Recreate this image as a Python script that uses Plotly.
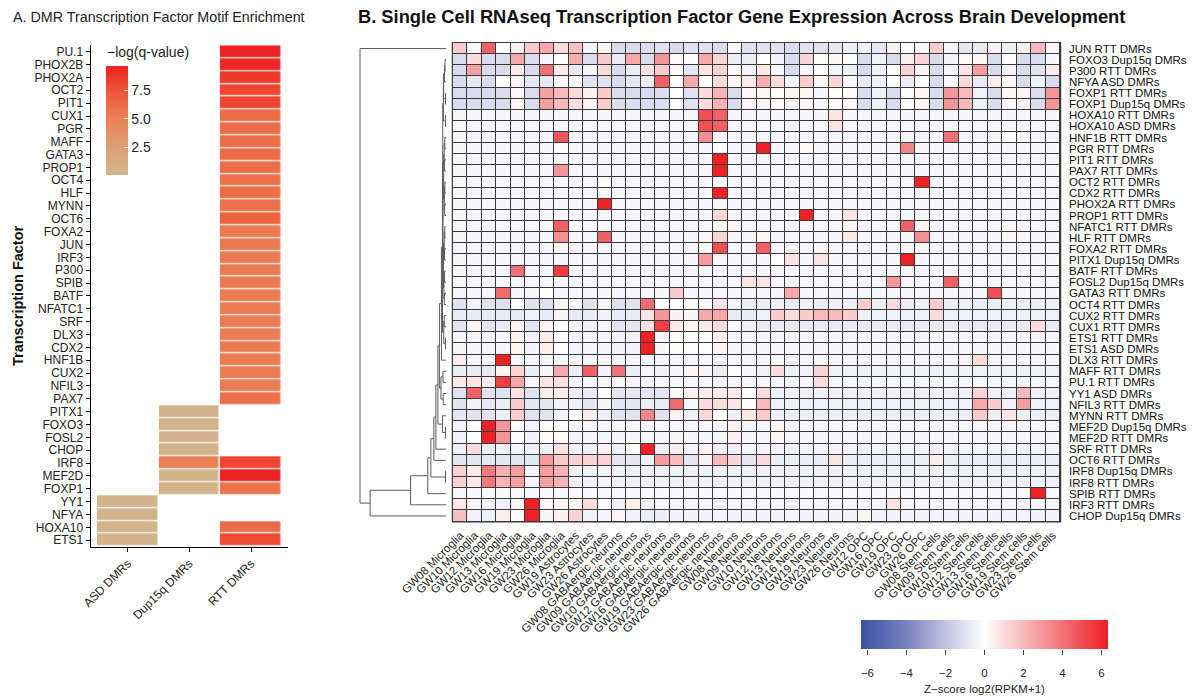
import plotly.graph_objects as go

W, H = 1197, 698
FONT = "Liberation Sans, Arial, Helvetica, sans-serif"

# ---------------- Panel A data ----------------
tf_a = ["PU.1", "PHOX2B", "PHOX2A", "OCT2", "PIT1", "CUX1", "PGR", "MAFF", "GATA3", "PROP1",
        "OCT4", "HLF", "MYNN", "OCT6", "FOXA2", "JUN", "IRF3", "P300", "SPIB", "BATF",
        "NFATC1", "SRF", "DLX3", "CDX2", "HNF1B", "CUX2", "NFIL3", "PAX7", "PITX1", "FOXO3",
        "FOSL2", "CHOP", "IRF8", "MEF2D", "FOXP1", "YY1", "NFYA", "HOXA10", "ETS1"]
dmr_groups = ["ASD DMRs", "Dup15q DMRs", "RTT DMRs"]
asd_q = [None, None, None, None, None, None, None, None, None, None,
         None, None, None, None, None, None, None, None, None, None,
         None, None, None, None, None, None, None, None, None, None,
         None, None, None, None, None, 0.2, 0.2, 0.2, 0.2]
dup_q = [None, None, None, None, None, None, None, None, None, None,
         None, None, None, None, None, None, None, None, None, None,
         None, None, None, None, None, None, None, None, 0.2, 0.2,
         0.2, 0.2, 5.0, 0.3, 0.3, None, None, None, None]
rtt_q = [9.6, 9.4, 8.6, 8.1, 8.1, 6.2, 6.1, 6.1, 6.1, 6.0,
         6.0, 6.0, 6.0, 6.8, 5.4, 5.4, 5.4, 5.4, 5.4, 5.3,
         5.3, 5.3, 5.3, 5.3, 5.3, 5.3, 5.3, 5.9, None, None,
         None, None, 8.0, 9.6, 5.8, None, None, 6.2, 7.8]

# ---------------- Panel B data ----------------
row_labels = ["JUN RTT DMRs", "FOXO3 Dup15q DMRs", "P300 RTT DMRs", "NFYA ASD DMRs",
              "FOXP1 RTT DMRs", "FOXP1 Dup15q DMRs", "HOXA10 RTT DMRs", "HOXA10 ASD DMRs",
              "HNF1B RTT DMRs", "PGR RTT DMRs", "PIT1 RTT DMRs", "PAX7 RTT DMRs",
              "OCT2 RTT DMRs", "CDX2 RTT DMRs", "PHOX2A RTT DMRs", "PROP1 RTT DMRs",
              "NFATC1 RTT DMRs", "HLF RTT DMRs", "FOXA2 RTT DMRs", "PITX1 Dup15q DMRs",
              "BATF RTT DMRs", "FOSL2 Dup15q DMRs", "GATA3 RTT DMRs", "OCT4 RTT DMRs",
              "CUX2 RTT DMRs", "CUX1 RTT DMRs", "ETS1 RTT DMRs", "ETS1 ASD DMRs",
              "DLX3 RTT DMRs", "MAFF RTT DMRs", "PU.1 RTT DMRs", "YY1 ASD DMRs",
              "NFIL3 RTT DMRs", "MYNN RTT DMRs", "MEF2D Dup15q DMRs", "MEF2D RTT DMRs",
              "SRF RTT DMRs", "OCT6 RTT DMRs", "IRF8 Dup15q DMRs", "IRF8 RTT DMRs",
              "SPIB RTT DMRs", "IRF3 RTT DMRs", "CHOP Dup15q DMRs"]
col_labels = ["GW08 Microglia", "GW10 Microglia", "GW12 Microglia", "GW13 Microglia",
              "GW16 Microglia", "GW19 Microglia", "GW23 Microglia", "GW26 Microglia",
              "GW19 Astrocytes", "GW23 Astrocytes", "GW26 Astrocytes",
              "GW08 GABAergic neurons", "GW09 GABAergic neurons", "GW10 GABAergic neurons",
              "GW12 GABAergic neurons", "GW16 GABAergic neurons", "GW19 GABAergic neurons",
              "GW23 GABAergic neurons", "GW26 GABAergic neurons",
              "GW08 Neurons", "GW09 Neurons", "GW10 Neurons", "GW12 Neurons", "GW13 Neurons",
              "GW16 Neurons", "GW19 Neurons", "GW23 Neurons", "GW26 Neurons",
              "GW12 OPC", "GW16 OPC", "GW19 OPC", "GW23 OPC", "GW26 OPC",
              "GW08 Stem cells", "GW09 Stem cells", "GW10 Stem cells", "GW12 Stem cells",
              "GW13 Stem cells", "GW16 Stem cells", "GW19 Stem cells", "GW23 Stem cells",
              "GW26 Stem cells"]

expr_z = [
 [1.5,-0.3,4.5,0.0,0.4,1.5,2.5,  1.0,1.8,-0.4,0.3,-1.2,-1.2,-1.2,  -1.0,-1.2,-1.0,-1.0,-1.2,0.3,-1.0,  -1.0,-1.0,-1.2,-1.0,-1.0,-0.8,-0.5,  -0.5,-0.8,0.4,0.0,-0.3,1.5,-0.3,  -0.8,-0.7,0.4,-0.5,0.5,2.0,0.2],
 [-1.2,1.0,-1.2,-1.2,2.5,-1.2,-0.3,  0.0,2.3,-1.2,1.5,-0.7,2.5,-1.2,  3.0,0.2,0.0,2.5,1.2,-0.6,-0.6,  0.0,-0.4,-1.2,1.2,0.1,0.3,0.0,  -1.2,-0.5,-1.2,0.5,1.2,-1.2,-0.4,  0.2,0.3,-1.2,0.1,-1.2,-1.2,-0.3],
 [-1.2,2.7,-1.2,-1.2,0.6,-1.2,4.0,  0.6,-0.7,-0.4,1.0,-1.2,-0.6,0.8,  1.5,0.2,-0.8,0.8,1.2,0.2,-0.4,  0.6,-0.3,-1.2,-0.3,0.0,-0.4,-0.6,  -1.2,-0.5,0.0,1.3,0.3,-1.2,-0.4,  0.8,2.8,-1.2,-0.4,-1.2,-1.0,0.6],
 [-1.2,-0.8,-1.2,0.0,-0.3,-0.8,-0.8,  -0.3,0.2,-1.0,-1.0,-1.2,-0.8,-0.6,  4.5,0.1,2.5,0.0,1.0,0.3,0.5,  2.3,1.0,-0.3,1.5,0.3,1.2,-0.3,  -0.7,-0.5,0.0,-0.6,0.0,-1.2,-0.3,  1.0,-0.7,0.5,0.3,-1.2,-0.5,-1.2],
 [-1.2,-1.2,-1.2,-1.2,0.2,-1.2,2.7,  2.0,1.0,0.4,1.5,-1.2,-1.2,-1.2,  -1.1,0.0,-1.0,1.0,2.2,-1.2,0.2,  0.3,0.1,0.3,0.3,-0.3,0.1,0.2,  -1.2,-0.5,-1.2,0.1,0.3,-1.2,3.0,  2.0,-0.5,-1.2,0.2,0.3,-1.2,3.0],
 [-1.2,-1.2,-1.2,-1.2,0.2,-1.2,2.7,  2.0,1.0,0.4,1.5,-1.2,-1.2,-1.2,  -1.1,0.0,-1.0,1.0,2.2,-1.2,0.2,  0.3,0.1,0.3,0.3,-0.3,0.1,0.2,  -1.2,-0.5,-1.2,0.1,0.3,-1.2,3.0,  2.0,-0.5,-1.2,0.2,0.3,-1.2,3.0],
 [-0.3,-0.3,-0.3,-0.3,-0.3,-0.3,-0.3,  -0.3,-0.3,-0.3,-0.3,-0.3,-0.3,-0.3,  -0.3,-0.3,-0.3,5.0,4.5,-0.3,-0.3,  -0.3,-0.3,-0.3,-0.3,-0.3,0.8,-0.3,  -0.3,-0.3,-0.3,-0.3,-0.3,-0.3,-0.3,  -0.3,-0.3,-0.3,-0.3,-0.3,-0.3,-0.3],
 [-0.3,-0.3,-0.3,-0.3,-0.3,-0.3,-0.3,  -0.3,-0.3,-0.3,-0.3,-0.3,-0.3,-0.3,  -0.3,-0.3,-0.3,5.0,4.5,-0.3,-0.3,  -0.3,-0.3,-0.3,-0.3,-0.3,0.8,-0.3,  -0.3,-0.3,-0.3,-0.3,-0.3,-0.3,-0.3,  -0.3,-0.3,-0.3,-0.3,-0.3,-0.3,-0.3],
 [-0.3,-0.3,-0.3,-0.3,-0.3,-0.3,-0.3,  4.8,-0.3,-0.3,-0.3,-0.3,-0.3,-0.3,  -0.3,-0.3,-0.3,3.2,-0.1,-0.3,-0.3,  -0.3,-0.3,-0.3,-0.3,-0.3,-0.3,-0.3,  -0.3,-0.3,-0.3,-0.3,-0.3,-0.3,4.0,  -0.3,-0.3,-0.3,0.0,-0.3,-0.3,-0.3],
 [-0.3,-0.3,-0.3,-0.3,-0.3,-0.3,-0.3,  0.0,-0.3,-0.3,-0.3,-0.3,-0.3,-0.3,  -0.3,-0.3,-0.3,-0.3,0.0,-0.3,-0.3,  6.3,-0.3,-0.3,0.2,-0.3,-0.3,-0.3,  -0.3,-0.3,-0.3,3.5,-0.3,-0.3,-0.3,  -0.3,-0.3,-0.3,-0.3,-0.3,-0.3,-0.3],
 [-0.3,-0.3,-0.3,-0.3,-0.3,-0.3,-0.3,  -0.3,-0.3,-0.3,-0.3,-0.3,-0.3,-0.3,  -0.3,-0.3,-0.3,-0.3,6.3,-0.3,-0.3,  -0.3,-0.3,-0.3,-0.3,-0.3,-0.3,-0.3,  -0.3,-0.3,-0.3,-0.3,-0.3,-0.3,-0.3,  -0.3,-0.3,-0.3,-0.3,-0.3,-0.3,-0.3],
 [-0.3,-0.3,-0.3,-0.3,-0.3,-0.3,-0.3,  3.0,-0.3,-0.3,-0.3,-0.3,-0.3,-0.3,  -0.3,-0.3,-0.3,-0.3,6.3,-0.3,-0.3,  -0.3,-0.3,-0.3,-0.3,-0.3,-0.3,-0.3,  -0.3,-0.3,-0.3,-0.3,-0.3,-0.3,-0.3,  -0.3,-0.3,-0.3,-0.3,-0.3,-0.3,-0.3],
 [-0.3,-0.3,-0.3,-0.3,-0.3,-0.3,-0.3,  -0.3,-0.3,-0.3,0.1,-0.3,-0.3,-0.3,  -0.3,-0.3,-0.3,-0.3,-0.3,-0.3,-0.3,  -0.3,-0.3,-0.3,-0.3,-0.3,-0.3,-0.3,  -0.3,-0.3,-0.3,-0.3,6.3,-0.3,-0.3,  -0.3,-0.3,-0.3,-0.3,-0.3,-0.3,-0.3],
 [-0.3,-0.3,-0.3,-0.3,-0.3,-0.3,-0.3,  -0.3,-0.3,-0.3,-0.3,-0.3,-0.3,-0.3,  -0.3,-0.3,-0.3,-0.3,6.3,-0.3,-0.3,  -0.3,-0.3,-0.3,-0.3,-0.3,-0.3,-0.3,  -0.3,-0.3,-0.3,-0.3,-0.3,-0.3,-0.3,  -0.3,-0.3,-0.3,-0.3,-0.3,-0.3,-0.3],
 [-0.3,-0.3,-0.3,-0.3,-0.3,-0.3,-0.3,  -0.3,-0.3,-0.3,6.3,-0.3,-0.3,-0.3,  -0.3,-0.3,-0.3,-0.3,-0.3,-0.3,-0.3,  -0.3,-0.3,-0.3,-0.3,-0.3,-0.3,-0.3,  -0.3,-0.3,-0.3,-0.3,-0.3,-0.3,-0.3,  -0.3,-0.3,-0.3,-0.3,-0.3,-0.3,-0.3],
 [-0.3,-0.3,-0.3,-0.3,-0.3,-0.3,-0.3,  -0.3,-0.3,-0.3,-0.3,-0.3,-0.3,-0.3,  -0.3,-0.3,-0.3,-0.3,1.2,-0.3,-0.3,  -0.3,-0.3,-0.3,6.3,-0.3,-0.3,0.8,  -0.3,-0.3,-0.3,-0.3,-0.3,-0.3,-0.3,  -0.3,-0.3,-0.3,-0.3,-0.3,-0.3,-0.3],
 [-0.3,-0.3,-0.3,-0.3,-0.3,-0.3,-0.3,  4.5,0.0,-0.3,-0.3,-0.3,-0.3,-0.3,  -0.3,-0.3,-0.3,-0.3,0.0,0.3,-0.3,  -0.3,-0.3,-0.3,-0.3,-0.3,-0.3,-0.3,  -0.3,-0.3,-0.3,4.5,0.3,-0.3,-0.3,  -0.3,-0.3,-0.3,-0.3,-0.3,-0.3,-0.3],
 [-0.3,-0.3,-0.3,-0.3,-0.3,-0.3,-0.3,  3.2,-0.3,-0.3,4.5,-0.3,-0.3,-0.3,  -0.3,-0.3,-0.3,0.3,1.2,-0.3,-0.3,  0.3,-0.3,-0.3,-0.3,-0.3,-0.3,0.7,  -0.3,-0.3,-0.3,-0.3,3.2,-0.3,-0.3,  -0.3,-0.3,-0.3,0.3,-0.3,-0.3,-0.3],
 [-0.3,-0.3,-0.3,-0.3,-0.3,-0.3,-0.3,  -0.3,-0.3,-0.3,-0.3,-0.3,-0.3,-0.3,  -0.3,-0.3,-0.3,-0.3,5.0,-0.3,-0.3,  4.5,-0.3,-0.3,-0.3,-0.3,-0.3,-0.3,  -0.3,-0.3,-0.3,-0.3,-0.3,-0.3,-0.3,  -0.3,-0.3,-0.3,-0.3,-0.3,-0.3,-0.3],
 [-0.3,-0.3,-0.3,-0.3,-0.3,-0.3,-0.3,  -0.3,-0.3,-0.3,-0.3,-0.3,-0.3,-0.3,  -0.3,-0.3,-0.3,2.8,-0.3,-0.3,-0.3,  -0.3,0.0,0.8,-0.3,0.8,-0.3,-0.3,  -0.3,-0.3,-0.3,6.3,-0.3,-0.3,-0.3,  -0.3,-0.3,-0.3,-0.3,-0.3,-0.3,-0.3],
 [-0.3,-0.3,-0.3,-0.3,4.0,-0.3,-0.3,  5.5,-0.3,-0.3,-0.3,-0.3,-0.3,-0.3,  -0.3,-0.3,-0.3,-0.3,-0.3,-0.3,-0.3,  -0.3,-0.3,-0.3,-0.3,-0.3,-0.3,-0.3,  -0.3,-0.3,-0.3,-0.3,-0.3,-0.3,-0.3,  -0.3,-0.3,-0.3,-0.3,-0.3,-0.3,-0.3],
 [-0.3,-0.3,-0.3,-0.3,-0.3,-0.3,-0.3,  -0.3,-0.3,-0.3,-0.3,-0.3,-0.3,-0.3,  -0.3,-0.3,-0.3,-0.3,-0.3,-0.3,0.8,  0.8,-0.3,-0.3,-0.3,-0.3,-0.3,-0.3,  -0.3,-0.3,3.0,-0.3,-0.3,-0.3,4.5,  -0.3,-0.3,-0.3,-0.3,-0.3,-0.3,-0.3],
 [-0.3,-0.3,-0.3,4.2,-0.3,-0.3,0.0,  -0.3,-0.3,-0.3,-0.3,-0.3,-0.3,-0.3,  -0.3,1.5,-0.3,-0.3,-0.3,-0.3,-0.3,  -0.3,-0.3,2.5,-0.3,-0.3,-0.3,-0.3,  -0.3,-0.3,-0.3,-0.3,-0.3,-0.3,-0.3,  -0.3,-0.3,5.0,-0.3,-0.3,-0.3,-0.3],
 [-1.0,-0.4,-1.0,-1.0,0.0,-1.0,-1.0,  0.3,0.0,-1.0,0.3,-1.0,-1.0,4.2,  0.0,0.0,0.2,-0.2,0.8,-0.4,-0.6,  -0.6,-0.5,-0.6,-0.5,-0.6,-0.5,-0.6,  1.5,-0.6,1.0,-0.6,-0.5,1.5,-0.6,  -0.5,-0.6,-0.6,-0.5,-0.6,-0.6,-0.5],
 [-0.7,-0.7,-0.7,-0.7,-0.7,-0.5,-0.7,  -0.3,-0.7,-0.7,-0.4,-0.7,-0.7,0.8,  3.0,0.4,-0.3,2.5,2.5,-0.7,-0.7,  -0.5,1.5,1.0,1.5,2.0,2.0,1.5,  -0.5,-0.5,-0.5,-0.5,-0.5,1.0,-0.5,  -0.5,-0.5,-0.5,-0.5,-0.5,-0.5,-0.5],
 [-0.9,0.3,-0.9,-0.7,0.3,-0.9,0.3,  0.0,-0.4,-0.5,-0.3,-0.9,-0.9,0.8,  5.5,0.6,0.2,0.6,1.0,-0.2,-0.5,  -0.7,-0.7,-0.7,-0.7,-0.7,-0.7,-0.7,  -0.7,-0.7,-0.7,-0.7,-0.7,-0.7,-0.7,  -0.7,-0.7,-0.7,-0.7,-0.7,1.0,-0.7],
 [-0.3,-0.3,-0.3,-0.3,0.3,-0.4,0.5,  0.0,-0.4,-0.3,-0.3,-0.4,-0.4,6.3,  -0.3,0.1,0.0,0.0,0.3,-0.3,-0.3,  -0.3,-0.3,-0.3,-0.3,-0.3,-0.3,-0.3,  -0.3,-0.3,-0.3,-0.3,-0.3,-0.3,-0.3,  -0.3,-0.3,-0.3,-0.3,-0.3,-0.3,-0.3],
 [-0.3,-0.3,-0.3,-0.3,0.3,-0.4,0.5,  0.0,-0.4,-0.3,-0.3,-0.4,-0.4,6.3,  -0.3,0.1,0.0,0.0,0.3,-0.3,-0.3,  -0.3,-0.3,-0.3,-0.3,-0.3,-0.3,-0.3,  -0.3,-0.3,-0.3,-0.3,-0.3,-0.3,-0.3,  -0.3,-0.3,-0.3,-0.3,-0.3,-0.3,-0.3],
 [0.5,-0.3,-0.3,6.3,-0.3,-0.3,-0.3,  -0.3,-0.3,-0.3,-0.3,-0.3,-0.3,-0.3,  -0.3,-0.3,-0.3,-0.3,-0.3,-0.3,-0.3,  -0.3,-0.3,-0.3,-0.3,-0.3,-0.3,-0.3,  -0.3,-0.3,-0.3,-0.3,-0.3,-0.3,-0.3,  -0.3,1.0,-0.3,-0.3,-0.3,-0.3,-0.3],
 [-0.6,-0.7,-0.7,0.4,1.2,-0.6,-0.3,  2.5,-0.6,4.5,-0.4,4.0,-0.6,-0.3,  -0.5,-0.3,0.3,-0.3,-0.6,0.0,-0.3,  -0.5,1.0,-0.5,-0.5,1.2,-0.5,-0.5,  -0.5,-0.5,-0.5,-0.5,-0.5,-0.5,-0.5,  -0.5,-0.5,-0.5,-0.5,-0.5,-0.5,-0.5],
 [0.6,0.8,0.6,5.5,2.5,-0.3,0.8,  0.9,-0.3,-0.3,-0.3,-0.3,-0.3,-0.3,  -0.3,-0.3,-0.3,-0.3,-0.3,-0.3,-0.3,  -0.3,-0.3,-0.3,-0.3,1.0,-0.3,-0.3,  -0.3,-0.3,-0.3,-0.3,-0.3,-0.3,-0.3,  -0.3,-0.3,-0.3,-0.3,-0.3,-0.3,-0.3],
 [-1.0,4.5,-1.0,-1.0,0.8,-1.0,0.5,  0.5,-0.6,-0.7,0.1,-0.9,-0.8,-0.9,  -0.9,0.2,0.4,0.6,0.6,0.7,0.0,  1.0,-0.5,-0.5,-0.5,-0.5,-0.5,-0.5,  -0.5,-0.5,-0.5,-0.5,-0.5,-0.5,-0.5,  -0.5,1.2,-0.5,-0.5,2.0,-0.5,-0.5],
 [-0.9,-0.4,-0.8,-0.6,1.5,-0.8,-0.8,  -0.4,-0.5,-0.8,-0.3,-0.8,-0.8,-0.6,  -0.7,4.2,-0.2,1.0,1.0,0.8,0.0,  2.0,-0.5,-0.5,-0.5,-0.5,-0.5,-0.5,  -0.5,-0.5,-0.5,-0.5,-0.5,-0.5,-0.5,  -0.5,2.5,1.5,-0.5,2.8,-0.5,-0.5],
 [-0.8,-1.0,-1.0,-0.6,1.5,-1.0,-1.0,  -0.4,0.0,0.6,-0.6,-1.0,-1.0,3.5,  -1.0,0.4,-0.6,1.2,0.0,-0.5,0.8,  1.5,-0.6,-0.6,-0.6,-0.6,-0.6,-0.6,  -0.6,-0.6,-0.6,-0.6,-0.6,-0.6,-0.6,  -0.6,1.5,-0.6,0.8,-0.6,-0.6,-0.6],
 [-0.4,0.0,6.3,3.0,0.0,-0.4,0.1,  0.1,-0.4,-0.3,-0.3,-0.3,-0.3,-0.3,  -0.3,-0.3,-0.3,-0.3,-0.3,0.4,-0.3,  -0.3,0.3,-0.3,-0.3,-0.3,-0.3,-0.3,  -0.3,-0.3,-0.3,-0.3,-0.3,-0.3,-0.3,  -0.3,-0.3,-0.3,-0.3,-0.3,-0.3,-0.3],
 [-0.4,0.0,6.3,3.0,0.0,-0.4,0.1,  0.1,-0.4,-0.3,-0.3,-0.3,-0.3,-0.3,  -0.3,-0.3,-0.3,-0.3,-0.3,0.4,-0.3,  -0.3,0.3,-0.3,-0.3,-0.3,-0.3,-0.3,  -0.3,-0.3,-0.3,-0.3,-0.3,-0.3,-0.3,  -0.3,-0.3,-0.3,-0.3,-0.3,-0.3,-0.3],
 [-0.5,1.0,-0.6,-0.5,-0.3,-0.5,-0.5,  0.8,-0.5,-0.5,0.4,-0.5,0.1,6.3,  -0.5,0.5,-0.4,0.4,-0.5,-0.5,-0.3,  -0.4,-0.4,-0.4,-0.4,-0.4,-0.4,-0.4,  -0.4,-0.4,-0.4,-0.4,-0.4,-0.4,-0.4,  -0.4,-0.4,-0.4,-0.4,-0.4,-0.4,-0.4],
 [-0.8,-0.8,-0.8,-0.8,-0.8,-0.8,2.8,  1.5,1.3,1.3,1.3,-0.8,-0.8,-0.5,  2.8,2.0,-0.8,0.4,2.0,1.2,-0.8,  1.0,-0.6,-0.6,-0.6,-0.6,0.8,-0.6,  -0.6,-0.6,-0.6,-0.6,-0.6,0.5,-0.6,  -0.6,-0.6,-0.6,-0.6,-0.6,-0.6,-0.6],
 [1.3,0.6,3.8,2.2,2.8,-0.4,2.8,  2.2,-0.5,-0.5,-0.4,-0.5,-0.5,-0.5,  -0.5,-0.5,-0.5,-0.5,-0.5,-0.5,-0.5,  -0.5,-0.5,-0.5,-0.5,-0.5,-0.5,-0.5,  -0.5,-0.5,-0.5,-0.5,-0.5,-0.5,-0.5,  -0.5,-0.5,-0.5,-0.5,-0.5,-0.5,-0.5],
 [1.3,0.6,3.8,2.2,2.8,-0.4,2.8,  2.2,-0.5,-0.5,-0.4,-0.5,-0.5,-0.5,  -0.5,-0.5,-0.5,-0.5,-0.5,-0.5,-0.5,  -0.5,-0.5,-0.5,-0.5,-0.5,-0.5,-0.5,  -0.5,-0.5,-0.5,-0.5,-0.5,-0.5,-0.5,  -0.5,-0.5,-0.5,-0.5,-0.5,-0.5,-0.5],
 [-0.2,-0.2,-0.2,-0.2,-0.2,-0.2,-0.2,  -0.2,-0.2,-0.2,-0.2,-0.2,-0.2,-0.2,  -0.2,-0.2,-0.2,-0.2,-0.2,-0.2,-0.2,  -0.2,-0.2,-0.2,-0.2,-0.2,-0.2,-0.2,  -0.2,-0.2,-0.2,-0.2,-0.2,-0.2,-0.2,  -0.2,-0.2,-0.2,-0.2,-0.2,6.3,-0.2],
 [0.6,-0.3,-0.5,-0.5,0.2,6.3,0.2,  0.3,0.0,1.0,0.0,-0.5,0.5,-0.5,  -0.3,-0.3,-0.3,-0.3,-0.3,-0.3,-0.3,  -0.3,-0.3,-0.3,-0.3,-0.3,-0.3,-0.3,  -0.3,-0.3,0.8,-0.3,-0.3,-0.3,-0.3,  -0.3,-0.3,-0.3,-0.3,-0.3,-0.3,-0.3],
 [1.8,-0.5,-0.5,0.5,0.0,6.3,-0.3,  0.4,1.3,-0.5,-0.3,0.3,-0.5,-0.6,  -0.6,-0.4,-0.4,-0.4,-0.4,-0.4,-0.4,  -0.4,-0.4,-0.4,-0.4,-0.4,-0.4,-0.4,  0.3,-0.4,-0.4,-0.4,-0.4,-0.4,-0.4,  -0.4,-0.4,-0.4,-0.4,-0.4,-0.4,-0.4],
]

# dendrogram of the rows: (merge height, left, right); integers are row indices
row_tree = (85, 0,
  (75,
    (35,
      (18,
        (15,
          (12,
            (10,
              (8,
                (6.5,
                  (4.5,
                    (3.5,
                      (3.2,
                        (2.6, (2.4, (1.5, (1.0, 1, 2), 3), (0.5, 4, 5)), (0.5, 6, 7)),
                        (3.0,
                          (2.3, (1.8, (1.2, 8, 9), (1.4, 10, 11)), (1.6, (1.1, 12, 13), (1.3, 14, 15))),
                          (2.5, (1.7, (1.2, 16, 17), (1.5, 18, 19)), (2.0, (1.4, 20, 21), (1.6, 22, 23))))),
                      (2.2, (1.8, 24, 25), (0.5, 26, 27))),
                    28),
                  (5.0, (3.0, 29, 30), (2.8, 31, 32))),
                (3.5, 33, (0.5, 34, 35))),
              36),
            37),
          (0.5, 38, 39)),
        40),
      41),
    42))

# colour-key ticks of panel B
zkey_ticks = [-6, -4, -2, 0, 2, 4, 6]
zkey_min, zkey_max = -6.33, 6.33

# ---------------- helpers ----------------
def px(x):
    return x / W

def py(y):
    return 1 - y / H

fig = go.Figure()

# Panel A heatmap
z_a = [[asd_q[i], dup_q[i], rtt_q[i]] for i in range(len(tf_a))]
fig.add_trace(go.Heatmap(
    z=z_a, x=list(range(len(dmr_groups))), y=list(range(len(tf_a))),
    xgap=1.5, ygap=1.2, zmin=0.1, zmax=9.63,
    colorscale=[[0, "#D3B48C"], [0.25, "#DE9F78"], [0.5, "#EA8258"], [0.75, "#EE5A39"], [1, "#EE2024"]],
    colorbar=dict(orientation="v", x=px(106), xanchor="left", y=py(65.7), yanchor="top",
                  len=109, lenmode="pixels", thickness=22, thicknessmode="pixels",
                  xpad=0, ypad=0, outlinewidth=0, ticks="inside", ticklen=4, tickcolor="white",
                  tickvals=[2.5, 5.0, 7.5], ticktext=["2.5", "5.0", "7.5"],
                  tickfont=dict(size=14, color="#222", family=FONT)),
    hoverinfo="skip", xaxis="x", yaxis="y"))

# Panel B heatmap
fig.add_trace(go.Heatmap(
    z=expr_z, x=list(range(len(col_labels))), y=list(range(len(row_labels))),
    xgap=1, ygap=1, zmin=zkey_min, zmax=zkey_max,
    colorscale=[[0, "#3A53A4"], [0.184, "#7A80BD"], [0.342, "#C2C3E1"], [0.5, "#FFFFFF"],
                [0.658, "#F7B9BB"], [0.816, "#F17276"], [1, "#EE2024"]],
    colorbar=dict(orientation="h", x=px(984.5), xanchor="center", y=py(620), yanchor="top",
                  len=247, lenmode="pixels", thickness=29, thicknessmode="pixels",
                  xpad=0, ypad=0, outlinewidth=0, ticks="", showticklabels=False),
    hoverinfo="skip", xaxis="x2", yaxis="y2"))

# Dendrogram
dx, dy = [], []

def walk(node):
    if isinstance(node, int):
        return float(node), 0.0
    h, left, right = node
    yl, hl = walk(left)
    yr, hr = walk(right)
    dx.extend([hl, h, h, hr, None])
    dy.extend([yl, yl, yr, yr, None])
    return (yl + yr) / 2.0, h

walk(row_tree)
fig.add_trace(go.Scatter(x=dx, y=dy, mode="lines", line=dict(color="#5a5a5a", width=1),
                         hoverinfo="skip", showlegend=False, xaxis="x3", yaxis="y3",
                         cliponaxis=False))

# empty trace holding the colour-key axis of panel B
fig.add_trace(go.Scatter(x=[None], y=[None], mode="markers", showlegend=False,
                         hoverinfo="skip", xaxis="x4", yaxis="y4"))

# grid background for panel B
fig.add_shape(type="rect", xref="x2 domain", yref="y2 domain", x0=-0.002, x1=1.002,
              y0=-0.002, y1=1.002, fillcolor="#3a3a3a", line=dict(width=0), layer="below")

yb_dom = [py(521.5), py(43)]
fig.update_layout(
    width=W, height=H, margin=dict(l=0, r=0, t=0, b=0, autoexpand=False),
    paper_bgcolor="white", plot_bgcolor="white", showlegend=False,
    font=dict(family=FONT, color="#222"),
    xaxis=dict(domain=[px(90.7), px(288)], range=[-0.6, 2.6], anchor="y", automargin=False,
               tickvals=[0, 1, 2], ticktext=dmr_groups, tickangle=-45,
               showline=True, linecolor="black", linewidth=1.3, ticks="outside",
               ticklen=4, tickcolor="black", tickwidth=1.2,
               tickfont=dict(size=12, color="#222"), showgrid=False, zeroline=False),
    yaxis=dict(domain=[py(546.6), py(45.3)], range=[len(tf_a) - 0.5, -0.5], anchor="x",
               automargin=False,
               tickvals=list(range(len(tf_a))), ticktext=tf_a,
               showline=True, linecolor="black", linewidth=1.3, ticks="outside",
               ticklen=4, tickcolor="black", tickwidth=1.2,
               tickfont=dict(size=12, color="#222"), showgrid=False, zeroline=False),
    xaxis2=dict(domain=[px(453), px(1060)], range=[-0.5, len(col_labels) - 0.5], anchor="y2",
                automargin=False,
                tickvals=list(range(len(col_labels))), ticktext=col_labels, tickangle=-45,
                ticks="", showline=False, showgrid=False, zeroline=False,
                ticklabelstandoff=4, tickfont=dict(size=11.5, color="#222")),
    yaxis2=dict(domain=yb_dom, range=[len(row_labels) - 0.5, -0.5], anchor="x2", side="right",
                automargin=False,
                tickvals=list(range(len(row_labels))), ticktext=row_labels,
                ticks="", showline=False, showgrid=False, zeroline=False,
                ticklabelstandoff=8, tickfont=dict(size=11.5, color="#111")),
    xaxis3=dict(domain=[px(359), px(446)], range=[86, 0], anchor="y3", visible=False),
    yaxis3=dict(domain=yb_dom, range=[len(row_labels) - 0.5, -0.5], anchor="x3", visible=False),
    xaxis4=dict(domain=[px(861), px(1108)], range=[zkey_min, zkey_max], anchor="y4",
                automargin=False, tickvals=zkey_ticks,
                ticktext=[("\u2212" + str(-t)) if t < 0 else str(t) for t in zkey_ticks],
                ticks="outside", ticklen=5, tickcolor="#444", tickwidth=1,
                showline=False, showgrid=False, zeroline=False, ticklabelstandoff=8,
                tickfont=dict(size=11.5, color="#222"),
                title=dict(text="Z\u2212score log2(RPKM+1)", standoff=7,
                           font=dict(size=11.5, color="#222"))),
    yaxis4=dict(domain=[py(649), py(620)], range=[0, 1], anchor="x4", visible=False),
)

# Texts
fig.add_annotation(x=px(11), y=py(17), xref="paper", yref="paper", xanchor="left", yanchor="middle",
                   text="A. DMR Transcription Factor Motif Enrichment", showarrow=False,
                   font=dict(size=14.3, color="#222", family=FONT))
fig.add_annotation(x=px(356), y=py(17), xref="paper", yref="paper", xanchor="left", yanchor="middle",
                   text="<b>B. Single Cell RNAseq Transcription Factor Gene Expression Across Brain Development</b>",
                   showarrow=False, font=dict(size=18.3, color="#111", family=FONT))
fig.add_annotation(x=px(18), y=py(296), xref="paper", yref="paper", xanchor="center", yanchor="middle",
                   text="<b>Transcription Factor</b>", textangle=-90, showarrow=False,
                   font=dict(size=14.5, color="#111", family=FONT))
fig.add_annotation(x=px(105), y=py(52), xref="paper", yref="paper", xanchor="left", yanchor="middle",
                   text="\u2212log(q-value)", showarrow=False,
                   font=dict(size=14, color="#222", family=FONT))

fig.write_html("out.html", config={"displayModeBar": False},
               post_script="document.body.style.margin='0px';")
